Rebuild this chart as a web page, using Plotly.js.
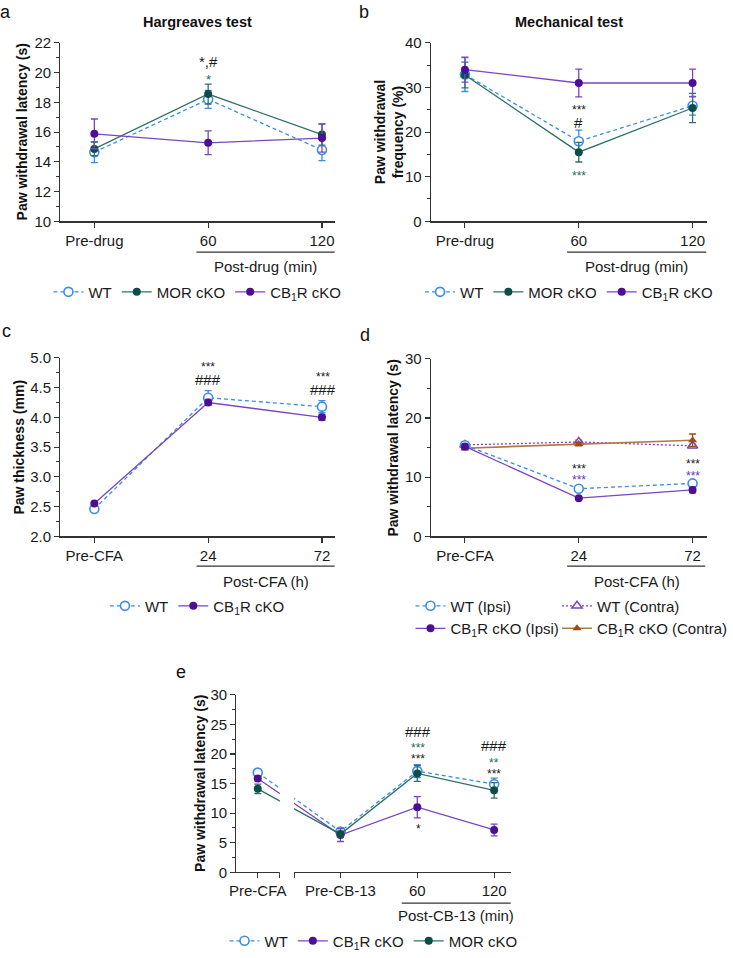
<!DOCTYPE html>
<html><head><meta charset="utf-8">
<script src="https://cdn.plot.ly/plotly-3.0.1.min.js"></script>
<style>html,body{margin:0;padding:0;background:#fff}</style>
</head><body><div id="chart" style="width:733px;height:958px"></div>
<script>
// ---------- data ----------
const catsDrug = ['Pre-drug', '60', '120'];
const catsCFA = ['Pre-CFA', '24', '72'];
const catsE = ['Pre-CFA', 'Pre-CB-13', '60', '120'];

// Panel a: Hargreaves test (s)
const aWT = [14.65, 18.2, 14.8];      const aWTerr = [0.7, 0.6, 0.72];
const aMOR = [14.87, 18.56, 15.83];   const aMORerr = [0.45, 0.67, 0.7];
const aCB = [15.88, 15.28, 15.6];     const aCBerr = [1.0, 0.8, 0.95];

// Panel b: Mechanical test (%)
const bWT = [32.9, 17.95, 25.9];      const bWTerr = [3.8, 2.5, 2.1];
const bMOR = [32.8, 15.5, 25.4];      const bMORerr = [2.9, 2.2, 3.3];
const bCB = [34.0, 31.0, 31.0];       const bCBerr = [2.8, 3.1, 3.1];

// Panel c: Paw thickness (mm)
const cWT = [2.46, 4.33, 4.18];       const cWTerr = [0.03, 0.12, 0.1];
const cCB = [2.55, 4.25, 4.0];        const cCBerr = [0.03, 0.05, 0.05];

// Panel d: Paw withdrawal latency (s)
const dWTi = [15.4, 8.05, 8.95];      const dWTiErr = [0.6, 0.3, 0.4];
const dCBi = [15.2, 6.45, 7.85];      const dCBiErr = [0.4, 0.2, 0.5];
const dWTc = [15.45, 15.95, 15.3];    const dWTcErr = [0.3, 0.3, 0.3];
const dCBc = [14.9, 15.6, 16.25];     const dCBcErr = [0.3, 0.3, 1.05];

// Panel e: Paw withdrawal latency (s)
const eWT = [16.85, 6.9, 17.1, 14.9]; const eWTerr = [0.5, 0.4, 1.1, 1.0];
const eCB = [15.85, 6.3, 11.0, 7.15]; const eCBerr = [0.4, 1.1, 1.8, 1.0];
const eMOR = [14.1, 6.45, 16.7, 13.85]; const eMORerr = [0.8, 0.5, 1.35, 1.3];

// ---------- layout helpers ----------
const W = 733, H = 958;
const px = x => x / W;
const py = y => 1 - y / H;
const FONT = 'Liberation Sans, Arial, Helvetica, sans-serif';
const posE = [0, 1.076, 2.076, 3.076];

const BLUE = '#3a8ee6';
const TEAL_M = '#0c4d47', TEAL_L = '#2f716a';
const PUR_M = '#4c0e92', PUR_L = '#7a45c2';
const BRN_M = '#9a4e12', BRN_L = '#b07a45';
const AX = '#333333';

function style(kind) {
  if (kind === 'wt') return {line: {color: BLUE, width: 1.3, dash: '4px,3px'},
    marker: {symbol: 'circle', size: 9, color: '#ffffff', line: {color: BLUE, width: 1.6}}, ec: BLUE};
  if (kind === 'mor') return {line: {color: TEAL_L, width: 1.3},
    marker: {symbol: 'circle', size: 8, color: TEAL_M}, ec: TEAL_L};
  if (kind === 'cb') return {line: {color: PUR_L, width: 1.3},
    marker: {symbol: 'circle', size: 8, color: PUR_M}, ec: PUR_L};
  if (kind === 'wtc') return {line: {color: PUR_L, width: 1.3, dash: '2px,2px'},
    marker: {symbol: 'triangle-up', size: 9, color: '#ffffff', line: {color: PUR_L, width: 1.5}}, ec: PUR_L};
  if (kind === 'cbc') return {line: {color: BRN_L, width: 1.6},
    marker: {symbol: 'triangle-up', size: 8, color: BRN_M}, ec: BRN_M};
}
function tr(x, y, err, kind, n, legend, name) {
  const s = style(kind);
  return {x: x, y: y, type: 'scatter', mode: 'lines+markers', name: name,
    xaxis: 'x' + (n === 1 ? '' : n), yaxis: 'y' + (n === 1 ? '' : n), legend: legend,
    line: s.line, marker: s.marker, cliponaxis: false,
    error_y: {type: 'data', array: err, visible: true, color: s.ec, thickness: 1.3, width: 3.5}};
}
const CB1 = 'CB<sub>1</sub>R cKO';
const data = [
  tr(catsDrug, aWT, aWTerr, 'wt', 1, 'legend', 'WT'),
  tr(catsDrug, aMOR, aMORerr, 'mor', 1, 'legend', 'MOR cKO'),
  tr(catsDrug, aCB, aCBerr, 'cb', 1, 'legend', CB1),
  tr(catsDrug, bWT, bWTerr, 'wt', 2, 'legend2', 'WT'),
  tr(catsDrug, bMOR, bMORerr, 'mor', 2, 'legend2', 'MOR cKO'),
  tr(catsDrug, bCB, bCBerr, 'cb', 2, 'legend2', CB1),
  tr(catsCFA, cWT, cWTerr, 'wt', 3, 'legend3', 'WT'),
  tr(catsCFA, cCB, cCBerr, 'cb', 3, 'legend3', CB1),
  tr(catsCFA, dWTc, dWTcErr, 'wtc', 4, 'legend5', 'WT (Contra)'),
  tr(catsCFA, dCBc, dCBcErr, 'cbc', 4, 'legend5', CB1 + ' (Contra)'),
  tr(catsCFA, dWTi, dWTiErr, 'wt', 4, 'legend4', 'WT (Ipsi)'),
  tr(catsCFA, dCBi, dCBiErr, 'cb', 4, 'legend4', CB1 + ' (Ipsi)'),
  tr(posE, eWT, eWTerr, 'wt', 5, 'legend6', 'WT'),
  tr(posE, eCB, eCBerr, 'cb', 5, 'legend6', CB1),
  tr(posE, eMOR, eMORerr, 'mor', 5, 'legend6', 'MOR cKO'),
];

function xAx(x0, x1, range, anchor, extra) {
  return Object.assign({domain: [px(x0), px(x1)], range: range, anchor: anchor, type: 'category',
    showline: true, linecolor: AX, linewidth: 1.2, ticks: 'outside', ticklen: 5, tickwidth: 1.1,
    tickcolor: AX, showgrid: false, zeroline: false, tickfont: {size: 15, color: '#1a1a1a', family: FONT}}, extra || {});
}
function yAx(yTop, yBot, range, dtick, minor, anchor, fmt) {
  return {domain: [py(yBot), py(yTop)], range: range, anchor: anchor, dtick: dtick, tick0: 0,
    showline: true, linecolor: AX, linewidth: 1.2, ticks: 'outside', ticklen: 5, tickwidth: 1.1,
    tickcolor: AX, showgrid: false, zeroline: false, tickformat: fmt || '',
    minor: {dtick: minor, ticklen: 3, tickcolor: AX, ticks: 'outside', tickwidth: 1, showgrid: false},
    tickfont: {size: 15, color: '#1a1a1a', family: FONT}};
}

function leg(x, y, xanchor, orient) {
  return {x: px(x), y: py(y), xanchor: xanchor, yanchor: 'middle', orientation: orient,
    font: {size: 15, family: FONT, color: '#1a1a1a'}, bgcolor: 'rgba(0,0,0,0)', itemwidth: 30,
    traceorder: 'normal', tracegroupgap: 0, itemclick: false};
}

function txt(x, y, text, opts) {
  return Object.assign({xref: 'paper', yref: 'paper', x: px(x), y: py(y), text: text, showarrow: false,
    xanchor: 'center', yanchor: 'middle', font: {size: 15, family: FONT, color: '#1a1a1a'}}, opts || {});
}
function star(x, y, text, color, size) {
  return txt(x, y, text, {font: {size: size || 14, family: FONT, color: color}});
}
function ytitle(x, y, text) {
  return txt(x, y, '<b>' + text + '</b>', {textangle: -90, font: {size: 14, family: FONT, color: '#111'}});
}
function hline(x0, x1, y) {
  return {type: 'line', xref: 'paper', yref: 'paper', x0: px(x0), x1: px(x1), y0: py(y), y1: py(y),
    line: {color: AX, width: 1.2}};
}

const BLACK = '#1a1a1a', TEALT = '#1f6a63', PURT = '#6a2fc0';

const annotations = [
  // panel letters
  txt(6, 12, 'a', {font: {size: 18, family: FONT, color: '#111'}}),
  txt(374, 12, 'b', {font: {size: 18, family: FONT, color: '#111'}}),
  txt(7, 332, 'c', {font: {size: 18, family: FONT, color: '#111'}}),
  txt(375, 336, 'd', {font: {size: 18, family: FONT, color: '#111'}}),
  txt(186, 674, 'e', {font: {size: 18, family: FONT, color: '#111'}}),
  // panel titles
  txt(203, 22, '<b>Hargreaves test</b>', {font: {size: 14.5, family: FONT, color: '#111'}}),
  txt(585, 22, '<b>Mechanical test</b>', {font: {size: 14.5, family: FONT, color: '#111'}}),
  // y-axis titles
  ytitle(23, 132.5, 'Paw withdrawal latency (s)'),
  ytitle(400, 132.5, 'Paw withdrawal<br>frequency (%)'),
  ytitle(20, 448.5, 'Paw thickness (mm)'),
  ytitle(404, 449, 'Paw withdrawal latency (s)'),
  ytitle(205, 786, 'Paw withdrawal latency (s)'),
  // group labels
  txt(273, 267, 'Post-drug (min)'),
  txt(654, 267, 'Post-drug (min)'),
  txt(273, 583, 'Post-CFA (h)'),
  txt(655, 583, 'Post-CFA (h)'),
  txt(469, 918, 'Post-CB-13 (min)'),
  // significance marks
  star(214, 62, '*,#', BLACK, 15),
  star(214, 80, '*', TEALT, 13),
  star(595, 110, '***', BLACK, 12),
  star(595, 123, '#', BLACK, 15),
  star(595, 177, '***', TEALT, 12),
  star(214, 368, '***', BLACK, 12),
  star(214, 381, '###', BLACK, 15),
  star(332, 378, '***', BLACK, 12),
  star(332, 391, '###', BLACK, 15),
  star(595, 470, '***', BLACK, 12),
  star(595, 482, '***', PURT, 12),
  star(712, 465, '***', BLACK, 12),
  star(712, 477, '***', PURT, 12),
  star(430, 734, '###', BLACK, 15),
  star(430, 750, '***', TEALT, 12),
  star(430, 761, '***', BLACK, 12),
  star(430, 832, '*', BLACK, 12),
  star(508, 748, '###', BLACK, 15),
  star(508, 765, '**', TEALT, 12),
  star(508, 776, '***', BLACK, 12),
];

const shapes = [
  hline(202, 344, 253),
  hline(583, 726, 253),
  hline(202, 344, 568),
  hline(583, 725, 568),
  hline(413, 525, 906),
  // axis break in panel e
  {type: 'rect', xref: 'paper', yref: 'paper', x0: px(287.7), x1: px(302.3), y0: py(877.5), y1: py(690),
    fillcolor: '#ffffff', line: {width: 0}, layer: 'above'},
];

const layout = {
  width: W, height: H, margin: {l: 0, r: 0, t: 0, b: 0},
  paper_bgcolor: '#ffffff', plot_bgcolor: '#ffffff', showlegend: true,
  font: {family: FONT, size: 15, color: '#1a1a1a'},
  xaxis: xAx(62, 344, [-0.299, 2.111], 'y'),
  yaxis: yAx(43, 222, [10, 22], 2, 1, 'x'),
  xaxis2: xAx(443, 727, [-0.299, 2.128], 'y2'),
  yaxis2: yAx(43, 222, [0, 40], 10, 5, 'x2'),
  xaxis3: xAx(62, 344, [-0.299, 2.111], 'y3'),
  yaxis3: yAx(359, 538, [2, 5], 0.5, 0.25, 'x3', '.1f'),
  xaxis4: xAx(443, 727, [-0.299, 2.128], 'y4'),
  yaxis4: yAx(360, 538, [0, 30], 10, 5, 'x4'),
  xaxis5: xAx(243, 525, [-0.278, 3.291], 'y5', {type: 'linear', tickmode: 'array',
    tickvals: [posE[0], 0.278, 0.481, posE[1], posE[2], posE[3]],
    ticktext: [catsE[0], '', '', catsE[1], catsE[2], catsE[3]]}),
  yaxis5: yAx(697, 875, [0, 30], 5, 2.5, 'x5'),
  legend: leg(203, 293, 'center', 'h'),
  legend2: leg(585, 293, 'center', 'h'),
  legend3: leg(203, 608, 'center', 'h'),
  legend4: leg(422, 619, 'left', 'v'),
  legend5: leg(573, 619, 'left', 'v'),
  legend6: leg(384, 944, 'center', 'h'),
  annotations: annotations,
  shapes: shapes,
};

Plotly.newPlot('chart', data, layout, {displayModeBar: false, staticPlot: true});
</script>
</body></html>
